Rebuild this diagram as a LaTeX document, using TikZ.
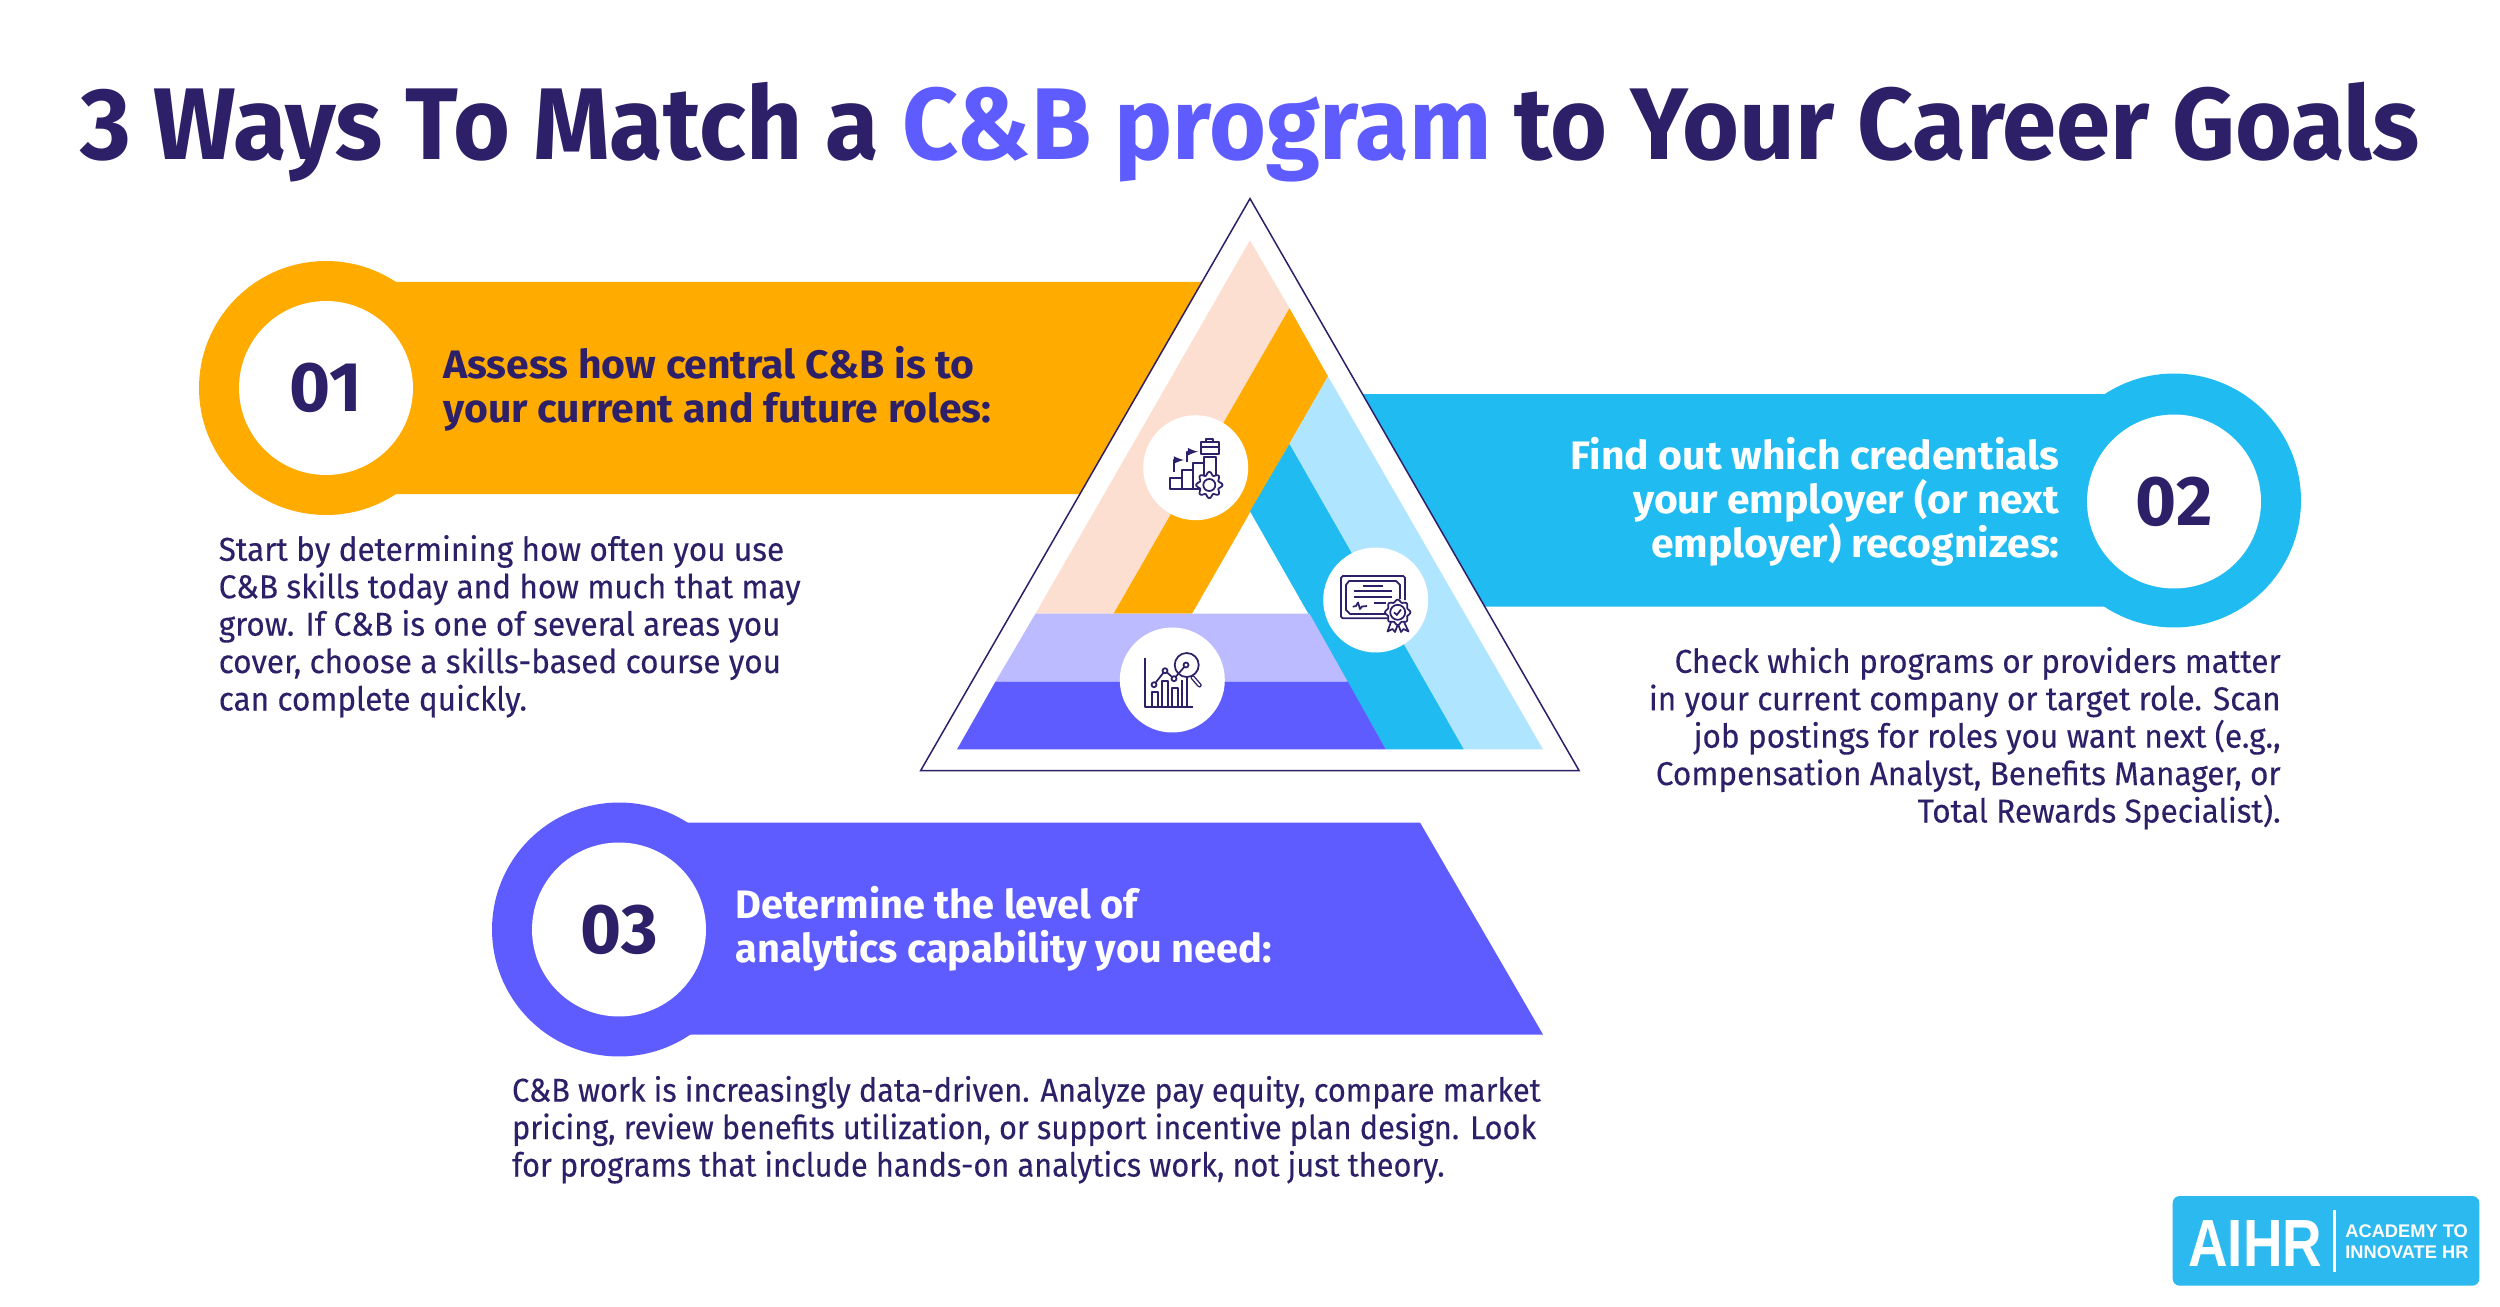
\documentclass[tikz,border=0pt]{standalone}
\usepackage{fontspec}
\setmainfont{Fira Sans}
\newfontfamily\titlefont{Fira Sans}[FakeStretch=.958]
\newfontfamily\headfont{Fira Sans}[FakeStretch=1.03]
\newfontfamily\bodyfont{Fira Sans}[FakeStretch=.955,FakeBold=.2]
\newfontfamily\lowerbodyfont{Fira Sans}[FakeStretch=.93,FakeBold=.2]
\newfontfamily\logofont{Liberation Sans}[FakeStretch=.82]
\newfontfamily\taglinefont{Liberation Sans}
\definecolor{ink}{HTML}{2E2068}
\definecolor{amber}{HTML}{FFAB00}
\definecolor{peach}{HTML}{FDDFD2}
\definecolor{sky}{HTML}{1FBBF1}
\definecolor{palesky}{HTML}{B0E5FF}
\definecolor{violet}{HTML}{5E5CFF}
\definecolor{lilac}{HTML}{BDBBFF}
\definecolor{logoblue}{HTML}{2CB9EF}
\tikzstyle{ring}=[circle,minimum size=5.08cm,inner sep=0pt]
\tikzstyle{disc}=[circle,fill=white,minimum size=3.48cm,inner sep=0pt,text=ink,font=\fontsize{40}{40}\selectfont\bfseries]
\tikzstyle{icondisc}=[circle,fill=white,minimum size=2.1cm,inner sep=0pt]
\tikzstyle{heading}=[inner sep=0pt,font=\fontsize{22.6}{25}\selectfont\bfseries]
\tikzstyle{para}=[inner sep=0pt,text=ink,font=\bodyfont\fontsize{18.8}{21.3}\selectfont]
\tikzstyle{iconline}=[ink,line width=.035cm,line join=round]

\begin{document}
\begin{tikzpicture}[y=-.02cm, x=.02cm]

	\useasboundingbox (0,0) rectangle (2500,1307);
	\fill[white] (0,0) rectangle (2500,1307);

	%title
	\node[anchor=base,inner sep=0pt,text=ink,font=\titlefont\fontsize{58}{58}\selectfont\bfseries] (title) at (1250,160)
		{3 Ways To Match a \textcolor{violet}{C\&B program} to Your Career Goals};

	%banners
	\fill[amber] (326,282) -- (1202,282) -- (1080,494) -- (326,494) -- cycle;
	\node[ring,fill=amber] (ring1) at (326,388) {};
	\node[disc] (num1) at (326,388) {01};
	\fill[sky] (1362,394) -- (2174,394) -- (2174,606.6) -- (1485,606.6) -- cycle;
	\node[ring,fill=sky] (ring2) at (2174,500.5) {};
	\node[disc] (num2) at (2174,501.5) {02};
	\fill[violet] (619,822.5) -- (1420,822.5) -- (1543,1034.5) -- (619,1034.5) -- cycle;
	\node[ring,fill=violet] (ring3) at (619,929.5) {};
	\node[disc] (num3) at (619,929.5) {03};

	%headings
	\node[heading,text=ink,anchor=base west,align=left,font=\headfont\fontsize{22.6}{25}\selectfont\bfseries] (head1) at (443,422.5)
		{Assess how central C\&B is to\\your current and future roles:};
	\node[heading,text=white,anchor=base east,align=right,font=\headfont\fontsize{22.6}{25}\selectfont\bfseries] (head2) at (2060,557)
		{Find out which credentials\\your employer (or next\\employer) recognizes:};
	\node[heading,text=white,anchor=base west,align=left] (head3) at (735,962)
		{Determine the level of\\analytics capability you need:};

	%triangle
	\draw[ink,fill=white,line width=.03cm] (1250,198.6) -- (920.7,770.5) -- (1579,770.5) -- cycle;
	\fill[peach] (1250,240.3) -- (1289.4,308.2) -- (1113.5,613.7) -- (1035.4,613.7) -- cycle;
	\fill[amber] (1289.4,308.2) -- (1328,376.4) -- (1192,613.7) -- (1113.5,613.7) -- cycle;
	\fill[palesky] (1328,376.4) -- (1543,749.4) -- (1463.8,749.4) -- (1289.4,443.9) -- cycle;
	\fill[sky] (1289.4,443.9) -- (1463.8,749.4) -- (1385.8,749.4) -- (1250,511.3) -- cycle;
	\fill[lilac] (1035.4,613.7) -- (1309.5,613.7) -- (1347.7,681.6) -- (995.5,681.6) -- cycle;
	\fill[violet] (995.5,681.6) -- (1347.7,681.6) -- (1385.8,749.4) -- (957,749.4) -- cycle;

	\node[icondisc] (icon1) at (1195.7,467.7) {};
	\node[icondisc] (icon2) at (1375.7,600) {};
	\node[icondisc] (icon3) at (1172.3,680) {};

	%career icon
	\draw[iconline] (1170,477.7) rectangle (1181.7,489.3);
	\draw[iconline] (1181.7,470) rectangle (1192.7,489.3);
	\draw[iconline] (1192.7,463.3) rectangle (1204,489.3);
	\draw[iconline] (1204,456.7) rectangle (1215.7,476);
	\draw[iconline,fill=white] plot[domain=0:360,samples=73,smooth cycle] ({1209.3+(11.5+1.7*cos(8*\x))*cos(\x)},{485+(11.5+1.7*cos(8*\x))*sin(\x)});
	\draw[iconline] (1209.3,485) circle (6);
	\draw[iconline] (1200.7,442.3) rectangle (1219.3,454.3);
	\draw[iconline] (1200.7,447) -- (1219.3,447);
	\draw[iconline] (1206,442) -- (1206,439) -- (1213.3,439) -- (1213.3,442);
	\draw[iconline,-latex] (1174,471.7) -- (1174,460) -- (1184,460);
	\draw[iconline,-latex] (1187.3,461.7) -- (1187.3,451.7) -- (1198,451.7);

	%certificate icon
	\draw[iconline,rounded corners=1pt] (1391,618.3) -- (1341,618.3) -- (1341,576) -- (1405,576) -- (1405,600);
	\draw[iconline] (1388,614) -- (1350,614) -- (1346,610) -- (1346,585) -- (1349,581) -- (1396,581) -- (1400,585) -- (1400,599);
	\draw[iconline] (1363.3,585.7) -- (1382.7,585.7);
	\foreach \y in {591.3,597.3}
		\draw[iconline] (1354,\y) -- (1391.7,\y);
	\draw[iconline] (1374,602.7) -- (1386,602.7);
	\draw[iconline] (1352.7,606.7) -- (1356,606) -- (1358,602.5) -- (1360,609) -- (1362,606.5) -- (1367,606);
	\draw[iconline] (1391,622) -- (1387.5,631.5) -- (1392.5,629) -- (1395,632) -- (1398,624);
	\draw[iconline] (1404,622) -- (1408.5,631.5) -- (1403.5,629) -- (1401,632) -- (1398,624);
	\draw[iconline,fill=white] plot[domain=0:360,samples=73,smooth cycle] ({1397.7+(11.5+1.2*cos(8*\x))*cos(\x)},{612.3+(11.5+1.2*cos(8*\x))*sin(\x)});
	\draw[iconline] (1397.7,612.3) circle (7.5);
	\draw[iconline] (1394,612.3) -- (1396.8,615) -- (1401,609.5);

	%analytics icon
	\draw[iconline] (1144.7,658.3) -- (1144.7,706.7) -- (1192.7,706.7);
	\draw[iconline] (1152.3,706.7) -- (1152.3,691.7) -- (1158.3,691.7) -- (1158.3,706.7);
	\draw[iconline] (1161.7,706.7) -- (1161.7,680.7) -- (1168.3,680.7) -- (1168.3,706.7);
	\draw[iconline] (1172,706.7) -- (1172,688.3) -- (1178.3,688.3) -- (1178.3,706.7);
	\draw[iconline] (1181.7,680) -- (1181.7,706.7);
	\draw[iconline] (1187.3,677) -- (1187.3,706.7);
	\draw[iconline] (1154,684.7) -- (1165,670.7) -- (1174,678.7) -- (1186,665);
	\draw[iconline] (1186.7,665) circle (12);
	\foreach \p in {(1154,684.7),(1165,670.7),(1174,678.7),(1186,665)}
		\draw[iconline,fill=white] \p circle (2.5);
	\draw[ink,line width=.09cm,line cap=round] (1192.8,677.6) -- (1199.5,685.3);
	\draw[white,line width=.035cm,line cap=round] (1192.8,677.6) -- (1199.5,685.3);

	%body text
	\node[para,anchor=base west,align=left] (body1) at (218.4,710.5)
		{Start by determining how often you use\\C\&B skills today and how much that may\\grow. If C\&B is one of several areas you\\cover, choose a skills-based course you\\can complete quickly.};
	\node[para,anchor=base east,align=right] (body2) at (2281,822.5)
		{Check which programs or providers matter\\in your current company or target role. Scan\\job postings for roles you want next (e.g.,\\Compensation Analyst, Benefits Manager, or\\Total Rewards Specialist).};
	\node[para,anchor=base west,align=left,font=\lowerbodyfont\fontsize{18.8}{21.3}\selectfont] (body3) at (511.7,1176.5)
		{C\&B work is increasingly data-driven. Analyze pay equity, compare market\\pricing, review benefits utilization, or support incentive plan design. Look\\for programs that include hands-on analytics work, not just theory.};

	%logo
	\fill[logoblue,rounded corners=.14cm] (2172.7,1196) rectangle (2479.3,1285.7);
	\node[anchor=base west,inner sep=0pt,text=white,font=\logofont\fontsize{38}{38}\selectfont\bfseries] (aihr) at (2188,1266) {AIHR};
	\coordinate (divtop) at (2334,1210);
	\coordinate (divbot) at (2334,1272);
	\draw[white,line width=.06cm] (divtop) -- (divbot);
	\node[anchor=base west,inner sep=0pt,text=white,font=\taglinefont\fontsize{10.4}{11.4}\selectfont\bfseries,align=left] (tagline) at (2345,1258)
		{ACADEMY TO\\INNOVATE HR};

\end{tikzpicture}
\end{document}
